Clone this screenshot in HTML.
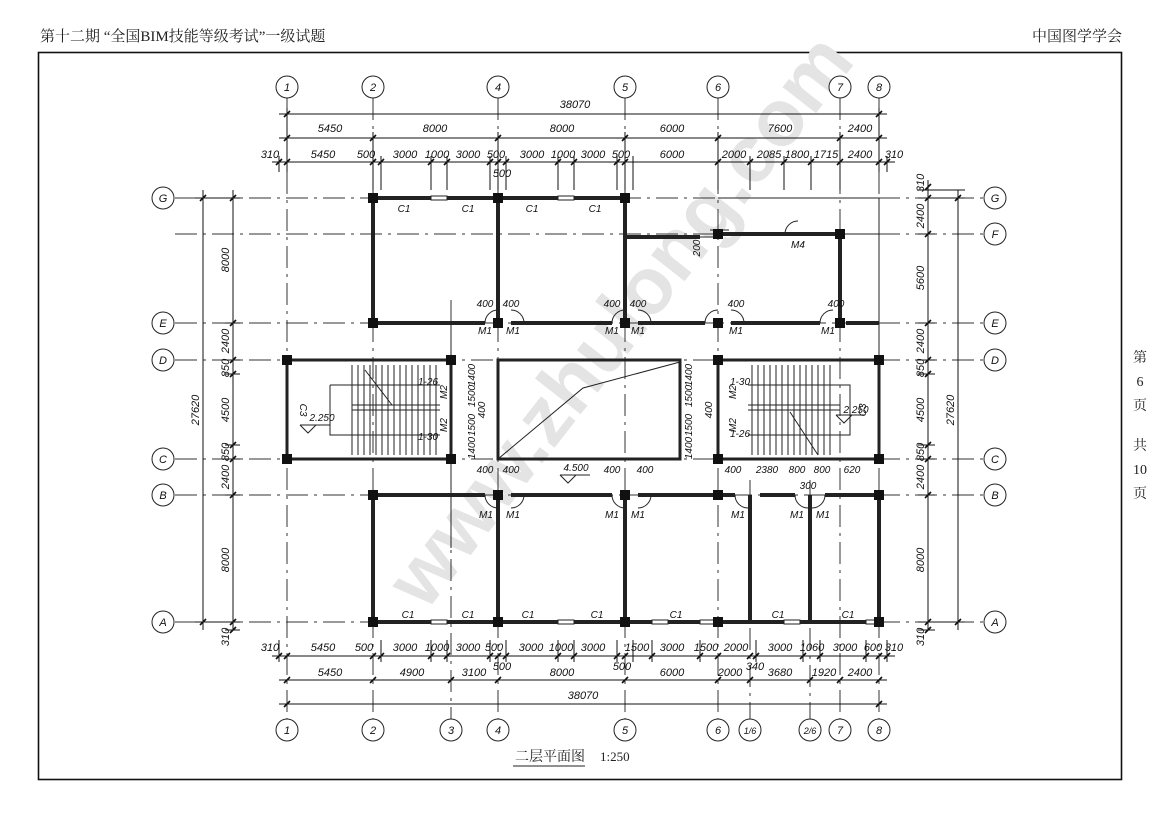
<!DOCTYPE html>
<html><head><meta charset="utf-8"><style>
body{margin:0;background:#fff;width:1169px;height:826px;overflow:hidden}
svg{display:block}
.c{font-family:"Liberation Sans Narrow","Liberation Sans",sans-serif;font-size:11px;font-style:italic;fill:#111;text-anchor:middle}
.h{font-family:"Liberation Serif","Noto Serif CJK SC",serif;font-size:15px;fill:#222}
</style></head><body>
<svg width="1169" height="826" viewBox="0 0 1169 826" xmlns="http://www.w3.org/2000/svg">
<text class="h" x="40" y="41">第十二期  “全国BIM技能等级考试”一级试题</text>
<text class="h" x="1122" y="41" text-anchor="end">中国图学学会</text>
<rect x="38.5" y="52.5" width="1083" height="727" fill="none" stroke="#111" stroke-width="1.6"/>
<g class="h" style="font-size:14px" text-anchor="middle">
<text x="1140" y="362">第</text><text x="1140" y="386">6</text><text x="1140" y="410">页</text>
<text x="1140" y="450">共</text><text x="1140" y="474">10</text><text x="1140" y="498">页</text>
</g>
<!-- watermark -->
<g font-family="Liberation Sans,sans-serif" font-weight="bold" transform="rotate(-52 560 400)">
<text x="310" y="425" font-size="80" fill="#e4e4e4">www.zhulong.com</text>
</g>
<!-- grid lines -->
<g stroke="#333" stroke-width="1" stroke-dasharray="22,6,3,6" fill="none">
<path d="M287 98V719M373 98V719M498 98V719M625 98V719M718 98V719M840 98V719M879 98V719M451 300V719M750 480V719M810 480V719"/>
<path d="M175 198H983M175 234H983M175 323H983M175 360H983M175 459H983M175 495H983M175 622H983"/>
</g>
<!-- axis circles -->
<g fill="#fff" stroke="#222" stroke-width="1">
<circle cx="287" cy="87" r="11"/><circle cx="373" cy="87" r="11"/><circle cx="498" cy="87" r="11"/><circle cx="625" cy="87" r="11"/><circle cx="718" cy="87" r="11"/><circle cx="840" cy="87" r="11"/><circle cx="879" cy="87" r="11"/>
<circle cx="287" cy="730" r="11"/><circle cx="373" cy="730" r="11"/><circle cx="451" cy="730" r="11"/><circle cx="498" cy="730" r="11"/><circle cx="625" cy="730" r="11"/><circle cx="718" cy="730" r="11"/><circle cx="750" cy="730" r="11"/><circle cx="810" cy="730" r="11"/><circle cx="840" cy="730" r="11"/><circle cx="879" cy="730" r="11"/>
<circle cx="163" cy="198" r="11"/><circle cx="163" cy="323" r="11"/><circle cx="163" cy="360" r="11"/><circle cx="163" cy="459" r="11"/><circle cx="163" cy="495" r="11"/><circle cx="163" cy="622" r="11"/>
<circle cx="995" cy="198" r="11"/><circle cx="995" cy="234" r="11"/><circle cx="995" cy="323" r="11"/><circle cx="995" cy="360" r="11"/><circle cx="995" cy="459" r="11"/><circle cx="995" cy="495" r="11"/><circle cx="995" cy="622" r="11"/>
</g>
<g class="c">
<text x="287" y="91">1</text><text x="373" y="91">2</text><text x="498" y="91">4</text><text x="625" y="91">5</text><text x="718" y="91">6</text><text x="840" y="91">7</text><text x="879" y="91">8</text>
<text x="287" y="734">1</text><text x="373" y="734">2</text><text x="451" y="734">3</text><text x="498" y="734">4</text><text x="625" y="734">5</text><text x="718" y="734">6</text><text x="750" y="734" style="font-size:9px">1/6</text><text x="810" y="734" style="font-size:9px">2/6</text><text x="840" y="734">7</text><text x="879" y="734">8</text>
<text x="163" y="202">G</text><text x="163" y="327">E</text><text x="163" y="364">D</text><text x="163" y="463">C</text><text x="163" y="499">B</text><text x="163" y="626">A</text>
<text x="995" y="202">G</text><text x="995" y="238">F</text><text x="995" y="327">E</text><text x="995" y="364">D</text><text x="995" y="463">C</text><text x="995" y="499">B</text><text x="995" y="626">A</text>
</g>
<!-- dimension lines -->
<g stroke="#111" stroke-width="1" fill="none">
<path d="M279 114H887M279 138H887M272 162H895M272 656H895M279 680H887M279 704H887"/>
<path d="M203 190V630M233 190V630M928 180V630M958 190V630"/>
<g stroke-width="1.6">
<path d="M284 117l6-6M876 117l6-6"/>
<path d="M284 141l6-6M370 141l6-6M495 141l6-6M622 141l6-6M715 141l6-6M837 141l6-6M876 141l6-6"/>
<path d="M276 165l6-6M284 165l6-6M370 165l6-6M378 165l6-6M428 165l6-6M444 165l6-6M487 165l6-6M495 165l6-6M503 165l6-6M555 165l6-6M571 165l6-6M614 165l6-6M622 165l6-6M715 165l6-6M747 165l6-6M781 165l6-6M808 165l6-6M837 165l6-6M876 165l6-6M884 165l6-6"/>
<path d="M276 659l6-6M284 659l6-6M370 659l6-6M378 659l6-6M428 659l6-6M444 659l6-6M487 659l6-6M495 659l6-6M503 659l6-6M555 659l6-6M571 659l6-6M614 659l6-6M622 659l6-6M649 659l6-6M697 659l6-6M715 659l6-6M747 659l6-6M753 659l6-6M800 659l6-6M817 659l6-6M863 659l6-6M876 659l6-6M884 659l6-6"/>
<path d="M284 683l6-6M370 683l6-6M448 683l6-6M495 683l6-6M622 683l6-6M715 683l6-6M747 683l6-6M807 683l6-6M837 683l6-6M876 683l6-6"/>
<path d="M284 707l6-6M876 707l6-6"/>
<path d="M200 201l6-6M200 625l6-6M230 201l6-6M230 326l6-6M230 363l6-6M230 377l6-6M230 448l6-6M230 462l6-6M230 498l6-6M230 625l6-6M230 633l6-6"/>
<path d="M925 190l6-6M925 201l6-6M925 237l6-6M925 326l6-6M925 363l6-6M925 377l6-6M925 448l6-6M925 462l6-6M925 498l6-6M925 625l6-6M925 633l6-6M955 201l6-6M955 625l6-6"/>
</g>
<path d="M287 108V172M879 108V172M373 132V190M498 132V190M625 132V190M718 132V190M840 132V190M381 156V190M431 156V190M447 156V190M490 156V190M506 156V190M558 156V190M574 156V190M617 156V190M633 156V190M750 156V190M784 156V190M811 156V190M279 156V172M887 156V172"/>
<path d="M279 640V662M887 640V662M381 640V662M431 640V662M447 640V662M490 640V662M506 640V662M558 640V662M574 640V662M617 640V662M633 640V662M652 640V662M700 640V662M756 640V662M803 640V662M820 640V662M866 640V662"/>
<path d="M195 198H240M195 622H240M225 323H240M225 360H240M225 374H240M225 445H240M225 459H240M225 495H240M225 630H240M918 190H965M918 198H965M918 234H935M918 323H935M918 360H935M918 374H935M918 445H935M918 459H935M918 495H935M918 622H965M918 630H935"/>
</g>
<g class="c">
<text x="575" y="108">38070</text>
<text x="330" y="132">5450</text><text x="435" y="132">8000</text><text x="562" y="132">8000</text><text x="672" y="132">6000</text><text x="780" y="132">7600</text><text x="860" y="132">2400</text>
<text x="270" y="158">310</text><text x="323" y="158">5450</text><text x="366" y="158">500</text><text x="405" y="158">3000</text><text x="437" y="158">1000</text><text x="468" y="158">3000</text><text x="496" y="158">500</text><text x="532" y="158">3000</text><text x="563" y="158">1000</text><text x="593" y="158">3000</text><text x="621" y="158">500</text><text x="672" y="158">6000</text><text x="734" y="158">2000</text><text x="769" y="158">2085</text><text x="797" y="158">1800</text><text x="826" y="158">1715</text><text x="860" y="158">2400</text><text x="894" y="158">310</text><text x="502" y="177">500</text>
<text x="270" y="651">310</text><text x="323" y="651">5450</text><text x="364" y="651">500</text><text x="405" y="651">3000</text><text x="437" y="651">1000</text><text x="468" y="651">3000</text><text x="494" y="651">500</text><text x="531" y="651">3000</text><text x="561" y="651">1000</text><text x="593" y="651">3000</text><text x="637" y="651">1500</text><text x="672" y="651">3000</text><text x="706" y="651">1500</text><text x="736" y="651">2000</text><text x="780" y="651">3000</text><text x="812" y="651">1060</text><text x="845" y="651">3000</text><text x="873" y="651">600</text><text x="894" y="651">310</text>
<text x="502" y="670">500</text><text x="622" y="670">500</text><text x="755" y="670">340</text>
<text x="330" y="676">5450</text><text x="412" y="676">4900</text><text x="474" y="676">3100</text><text x="562" y="676">8000</text><text x="672" y="676">6000</text><text x="730" y="676">2000</text><text x="780" y="676">3680</text><text x="824" y="676">1920</text><text x="860" y="676">2400</text>
<text x="583" y="699">38070</text>
</g>
<g class="c">
<text transform="translate(199 410) rotate(-90)">27620</text>
<text transform="translate(229 260) rotate(-90)">8000</text><text transform="translate(229 341) rotate(-90)">2400</text><text transform="translate(229 368) rotate(-90)">850</text><text transform="translate(229 410) rotate(-90)">4500</text><text transform="translate(229 452) rotate(-90)">850</text><text transform="translate(229 477) rotate(-90)">2400</text><text transform="translate(229 560) rotate(-90)">8000</text><text transform="translate(229 637) rotate(-90)">310</text>
<text transform="translate(954 410) rotate(-90)">27620</text>
<text transform="translate(924 183) rotate(-90)">310</text><text transform="translate(924 216) rotate(-90)">2400</text><text transform="translate(924 278) rotate(-90)">5600</text><text transform="translate(924 341) rotate(-90)">2400</text><text transform="translate(924 368) rotate(-90)">850</text><text transform="translate(924 410) rotate(-90)">4500</text><text transform="translate(924 452) rotate(-90)">850</text><text transform="translate(924 477) rotate(-90)">2400</text><text transform="translate(924 560) rotate(-90)">8000</text><text transform="translate(924 637) rotate(-90)">310</text>
</g>
<!-- walls -->
<g stroke="#222" stroke-width="4" fill="none">
<path d="M373 198H625M373 198V323M498 198V323M625 198V323M625 237H700M718 234H840V323M373 323H485M511 323H612M638 323H705M731 323H820M846 323H879"/>
<path d="M287 360H451V459H287ZM718 360H879V459H718ZM498 360H680V459H498Z" stroke-width="3"/>
<path d="M373 495H485M511 495H612M638 495H735M760 495H795M825 495H879M373 495V622M498 495V622M625 495V622M879 495V622M750 495V622M810 495V622M373 622H879"/>
</g>
<g stroke="#222" stroke-width="1" fill="none">
<path d="M718 198H879V360M700 237H718"/>
<path d="M498 459L583 388L680 362"/>
<path d="M710 230L729 230M840 234L879 234"/>
<path d="M485 323a13 13 0 0 1 13-13M511 310a13 13 0 0 1 13 13M612 323a13 13 0 0 1 13-13M638 310a13 13 0 0 1 13 13M705 323a13 13 0 0 1 13-13M731 310a13 13 0 0 1 13 13M820 323a13 13 0 0 1 13-13M485 495a13 13 0 0 0 13 13M511 508a13 13 0 0 0 13-13M612 495a13 13 0 0 0 13 13M638 508a13 13 0 0 0 13-13M735 495a13 13 0 0 0 13 13M795 495a13 13 0 0 0 13 13M812 508a13 13 0 0 0 13-13M785 234a13 13 0 0 1 13-13"/>
<path d="M352 365V455M358 365V455M364 365V455M370 365V455M376 365V455M382 365V455M388 365V455M394 365V455M400 365V455M406 365V455M412 365V455M418 365V455M424 365V455M430 365V455M436 365V455M352 405H440M352 410H440M330 385H440M330 385V435H440"/>
<path d="M752 365V455M758 365V455M764 365V455M770 365V455M776 365V455M782 365V455M788 365V455M794 365V455M800 365V455M806 365V455M812 365V455M818 365V455M824 365V455M830 365V455M748 405H840M748 410H840M748 385H850V435H748"/>
<path d="M365 370L392 405M790 412L818 455M451 323V360M451 459V548"/>
<path d="M300 425H330M300 425l8 8l8-8M560 475H590M560 475l8 8l8-8M836 415H865M836 415l8 8l8-8"/>
</g>
<g fill="#fff" stroke="#222" stroke-width="1">
<rect x="431" y="196" width="16" height="4"/><rect x="558" y="196" width="16" height="4"/><rect x="431" y="620" width="16" height="4"/><rect x="558" y="620" width="16" height="4"/><rect x="652" y="620" width="16" height="4"/><rect x="700" y="620" width="16" height="4"/><rect x="784" y="620" width="16" height="4"/><rect x="866" y="620" width="10" height="4"/>
</g>
<g fill="#111">
<rect x="368" y="193" width="10" height="10"/><rect x="493" y="193" width="10" height="10"/><rect x="620" y="193" width="10" height="10"/>
<rect x="368" y="318" width="10" height="10"/><rect x="493" y="318" width="10" height="10"/><rect x="620" y="318" width="10" height="10"/><rect x="713" y="318" width="10" height="10"/><rect x="835" y="318" width="10" height="10"/>
<rect x="713" y="229" width="10" height="10"/><rect x="835" y="229" width="10" height="10"/>
<rect x="282" y="355" width="10" height="10"/><rect x="446" y="355" width="10" height="10"/><rect x="282" y="454" width="10" height="10"/><rect x="446" y="454" width="10" height="10"/>
<rect x="713" y="355" width="10" height="10"/><rect x="874" y="355" width="10" height="10"/><rect x="713" y="454" width="10" height="10"/><rect x="874" y="454" width="10" height="10"/>
<rect x="368" y="490" width="10" height="10"/><rect x="493" y="490" width="10" height="10"/><rect x="620" y="490" width="10" height="10"/><rect x="713" y="490" width="10" height="10"/><rect x="874" y="490" width="10" height="10"/>
<rect x="368" y="617" width="10" height="10"/><rect x="493" y="617" width="10" height="10"/><rect x="620" y="617" width="10" height="10"/><rect x="713" y="617" width="10" height="10"/><rect x="874" y="617" width="10" height="10"/>
</g>
<g class="c" style="font-size:10px">
<text x="404" y="212">C1</text><text x="468" y="212">C1</text><text x="532" y="212">C1</text><text x="595" y="212">C1</text>
<text x="408" y="618">C1</text><text x="468" y="618">C1</text><text x="528" y="618">C1</text><text x="597" y="618">C1</text><text x="676" y="618">C1</text><text x="778" y="618">C1</text><text x="848" y="618">C1</text>
<text x="485" y="307">400</text><text x="511" y="307">400</text><text x="612" y="307">400</text><text x="638" y="307">400</text><text x="736" y="307">400</text><text x="836" y="307">400</text>
<text x="485" y="334">M1</text><text x="513" y="334">M1</text><text x="612" y="334">M1</text><text x="638" y="334">M1</text><text x="736" y="334">M1</text><text x="828" y="334">M1</text>
<text x="485" y="473">400</text><text x="511" y="473">400</text><text x="612" y="473">400</text><text x="645" y="473">400</text><text x="733" y="473">400</text><text x="767" y="473">2380</text><text x="797" y="473">800</text><text x="822" y="473">800</text><text x="852" y="473">620</text>
<text x="486" y="518">M1</text><text x="513" y="518">M1</text><text x="612" y="518">M1</text><text x="638" y="518">M1</text><text x="738" y="518">M1</text><text x="797" y="518">M1</text><text x="823" y="518">M1</text><text x="808" y="489">300</text>
<text x="798" y="248">M4</text>
<text x="428" y="385">1-26</text><text x="428" y="440">1-30</text><text x="740" y="385">1-30</text><text x="740" y="437">1-26</text>
<text x="322" y="421">2.250</text><text x="576" y="471">4.500</text><text x="856" y="413">2.250</text>
</g>
<g class="c" style="font-size:10px">
<text transform="translate(300 410) rotate(90)">C3</text><text transform="translate(866 410) rotate(-90)">C3</text>
<text transform="translate(447 392) rotate(-90)">M2</text><text transform="translate(447 425) rotate(-90)">M2</text>
<text transform="translate(736 392) rotate(-90)">M2</text><text transform="translate(736 425) rotate(-90)">M2</text>
<text transform="translate(475 375) rotate(-90)">1400</text><text transform="translate(475 396) rotate(-90)">1500</text><text transform="translate(485 410) rotate(-90)">400</text><text transform="translate(475 425) rotate(-90)">1500</text><text transform="translate(475 448) rotate(-90)">1400</text>
<text transform="translate(692 375) rotate(-90)">1400</text><text transform="translate(692 396) rotate(-90)">1500</text><text transform="translate(712 410) rotate(-90)">400</text><text transform="translate(692 425) rotate(-90)">1500</text><text transform="translate(692 448) rotate(-90)">1400</text>
<text transform="translate(700 248) rotate(-90)">200</text>
</g>
<text x="515" y="761" font-family="Liberation Serif,'Noto Serif CJK SC',serif" font-size="14" fill="#222">二层平面图</text>
<text x="600" y="761" font-family="Liberation Serif,serif" font-size="13" fill="#222">1:250</text>
<path d="M513 766H585" stroke="#222" stroke-width="1"/>
</svg>
</body></html>
